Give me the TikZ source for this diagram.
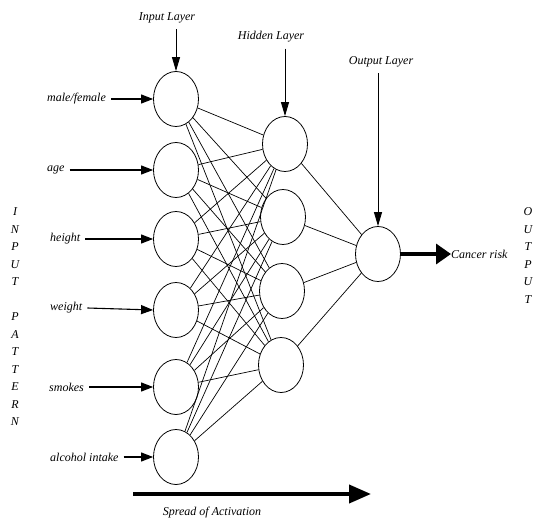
\documentclass[tikz,border=0pt]{standalone}
\usepackage{fontspec}
\setmainfont{Liberation Serif}
\usetikzlibrary{arrows.meta,shapes.geometric}
\begin{document}
\begin{tikzpicture}[x=1pt,y=-1pt,
  neuron/.style={draw, ellipse, minimum width=45pt, minimum height=55pt, inner sep=0pt, line width=0.8pt},
  lab/.style={font=\fontsize{12}{14}\selectfont\itshape, inner sep=0pt},
  letter/.style={font=\fontsize{12}{14}\selectfont\itshape, inner sep=0pt},
  conn/.style={line width=0.7pt},
  inarrow/.style={line width=1.1pt, -{Triangle[length=12pt,width=9pt]}},
  layarrow/.style={line width=0.9pt, -{Triangle[length=14pt,width=8pt]}},
  bigarrow/.style={line width=3.5pt, -{Triangle[length=15pt,width=20pt]}},
  spreadarrow/.style={line width=4pt, -{Triangle[length=22pt,width=18pt]}}]
\useasboundingbox[fill=white] (0,0) rectangle (536,524);

% input neurons
\node[neuron] (in1) at (176,99) {};
\node[neuron] (in2) at (176,170) {};
\node[neuron] (in3) at (176,239) {};
\node[neuron] (in4) at (176,310) {};
\node[neuron] (in5) at (176,387) {};
\node[neuron] (in6) at (176,457) {};
% hidden neurons
\node[neuron] (hid1) at (285,144) {};
\node[neuron] (hid2) at (283,217) {};
\node[neuron] (hid3) at (282,291) {};
\node[neuron] (hid4) at (281,365) {};
% output neuron
\node[neuron] (out) at (378,254) {};

% connections
\foreach \i in {1,...,6}{
  \foreach \j in {1,...,4}{
    \draw[conn] (in\i) -- (hid\j);
  }
}
\foreach \j in {1,...,4}{
  \draw[conn] (hid\j) -- (out);
}

% input labels
\node[lab, anchor=west] (l1) at (47,99) {male/female};
\node[lab, anchor=west] (l2) at (47,170) {age};
\node[lab, anchor=west] (l3) at (50,239) {height};
\node[lab, anchor=west] (l4) at (50,308) {weight};
\node[lab, anchor=west] (l5) at (49,387) {smokes};
\node[lab, anchor=west] (l6) at (50,457) {alcohol intake};
\foreach \k in {1,...,6}{
  \draw[inarrow] (l\k.east) ++(5,0) -- (in\k.west);
}

% layer labels
\node[lab] (inlay) at (167,18) {Input Layer};
\draw[layarrow] (in1.north |- inlay.south) ++(0,6) -- (in1.north);
\node[lab] (hidlay) at (271,37) {Hidden Layer};
\draw[layarrow] (hid1.north |- hidlay.south) ++(0,6) -- (hid1.north);
\node[lab] (outlay) at (381,62) {Output Layer};
\draw[layarrow] (out.north |- outlay.south) ++(0,6) -- (out.north);

% output arrow
\node[lab, anchor=west] (cr) at (451,254) {Cancer risk};
\draw[bigarrow] (out.east) -- (cr.west);

% spread of activation
\coordinate (sa) at (133,494);
\coordinate (sb) at (371,494);
\draw[spreadarrow] (sa) -- (sb);
\node[lab] (spread) at (212,513) {Spread of Activation};

% INPUT PATTERN
\foreach \l [count=\i] in {I,N,P,U,T}{
  \node[letter] (ip\i) at (15,{212+17.5*(\i-1)}) {\l};
}
\foreach \l [count=\i] in {P,A,T,T,E,R,N}{
  \node[letter] (pp\i) at (15,{317+17.5*(\i-1)}) {\l};
}
% OUTPUT
\foreach \l [count=\i] in {O,U,T,P,U,T}{
  \node[letter] (op\i) at (528,{212+17.5*(\i-1)}) {\l};
}
\end{tikzpicture}
\end{document}
